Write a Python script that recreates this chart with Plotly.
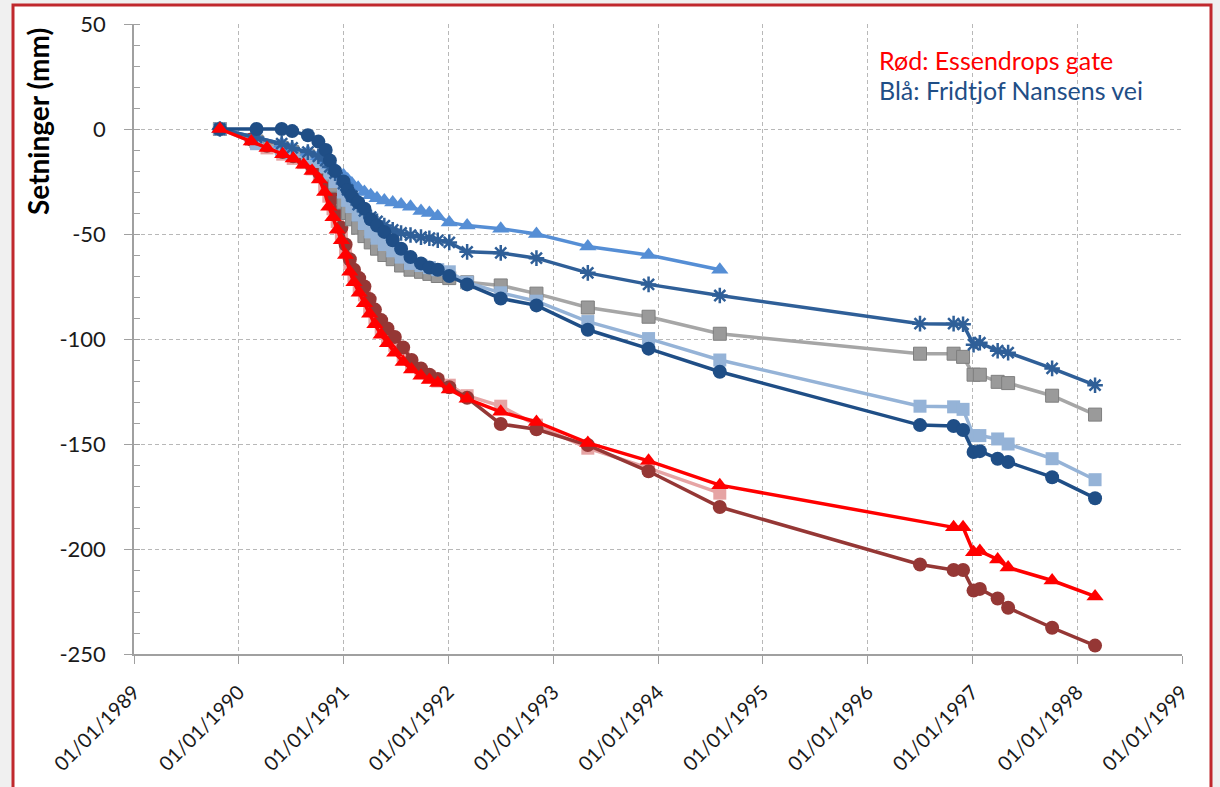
import datetime as dt
import plotly.graph_objects as go

# ---------------- data (dates as decimal years, settlements in mm) ----------------
E_early = [1989.82, 1990.12, 1990.27, 1990.42, 1990.52, 1990.62, 1990.70, 1990.77, 1990.82,
           1990.86, 1990.90, 1990.94, 1990.98, 1991.02, 1991.06, 1991.10, 1991.15, 1991.20,
           1991.25, 1991.30, 1991.36, 1991.42, 1991.49, 1991.57, 1991.65, 1991.74, 1991.82,
           1991.90, 1992.01]
B_early = [1989.82, 1990.17, 1990.41, 1990.51, 1990.66, 1990.76, 1990.83, 1990.87, 1990.92,
           1991.00, 1991.04, 1991.08, 1991.14, 1991.20, 1991.26, 1991.32, 1991.39, 1991.47,
           1991.55, 1991.64, 1991.74, 1991.82, 1991.90, 1992.01]
late = [1992.18, 1992.50, 1992.84, 1993.33, 1993.91, 1994.59, 1996.50, 1996.82, 1996.91,
        1997.01, 1997.07, 1997.24, 1997.34, 1997.76, 1998.17]
late_no_1996 = late[:6] + late[7:]

red_vals = [0, -6, -9, -12, -14, -17, -20, -24, -30, -37, -42, -48, -53, -60, -68, -73, -78,
            -83, -88, -93, -98, -102, -106.5, -111, -114.5, -117.5, -119.5, -121, -124,
            -128.5, -134.7, -139.5, -149.5, -158, -169.6, -189.7, -189.7, -201.6, -201, -205,
            -208.8, -215, -222.6]
brown_vals = [0, -5, -8, -11, -13, -15, -18, -21, -24, -28, -33, -40, -47, -55, -62, -67, -71,
              -75, -81, -86, -91, -95, -99, -104, -110, -114, -117, -119, -123,
              -128, -140.5, -143, -150.5, -163, -180, -207.4, -210, -210, -219.8, -219, -223.6,
              -228, -237.5, -246]
pink_vals = [0, -5, -9, -12, -14, -16, -19, -22, -27, -32, -38, -44, -50, -57, -64, -70, -75,
             -79, -85, -90, -95, -99, -103, -108, -113, -116, -118, -120, -122,
             -127, -132, -141, -152, -161.5, -173.4]

navy_vals = [0, 0, 0, -1, -3, -6, -10, -15, -20, -25, -29, -32, -35, -38, -43, -46, -49, -53,
             -57, -61, -64, -66, -67, -70,
             -74, -80.7, -84, -95.6, -104.6, -115.6, -141, -141.4, -143.3, -153.8, -153.4, -157,
             -158.6, -165.8, -175.8]
lightblue_vals = [0, -7, -10, -12, -14, -15.5, -18, -21, -25, -30, -34, -37, -41, -45, -49, -52,
                  -55, -58, -61, -64, -65, -66, -67, -68,
                  -73, -78, -82, -91.7, -99.8, -110, -132, -132.3, -133.5, -146, -146, -147.6,
                  -150, -157, -167]
grey_vals = [0, -6, -9, -11, -13, -15, -18, -22, -27, -35, -40, -43, -47, -51, -54, -57, -60,
             -62, -65, -67, -68, -69, -70, -71,
             -73, -74.5, -78.4, -85, -89.4, -97.5, -107, -107, -108.5, -117, -117, -120.4, -121,
             -127, -136]
midblue_vals = [0, -4, -7, -9, -11, -13, -15, -17, -19, -22, -24, -26, -28, -30, -31.5, -33,
                -34, -35, -36, -37, -39, -40, -41.5, -44.5,
                -46, -47.5, -50, -56, -60, -67]
star_vals = [0, -4, -7, -9, -11, -13, -15, -18, -21, -26, -29, -32, -36, -39, -42, -44, -46,
             -48, -49.5, -50.5, -51.5, -52, -53, -54,
             -58.5, -59, -61.5, -68.5, -74, -79.3, -92.7, -92.7, -93, -102.7, -101.8, -105.6,
             -106.5, -114, -122]

y_ticks = [50, 0, -50, -100, -150, -200, -250]
y_ticktext = ["50", "0", "-50", "-100", "-150", "-200", "-250"]
note_red = "Rød: Essendrops gate"
note_blue = "Blå: Fridtjof Nansens vei"
y_title = "Setninger (mm)"


def to_date(y):
    yr = int(y)
    start = dt.datetime(yr, 1, 1)
    length = (dt.datetime(yr + 1, 1, 1) - start).total_seconds()
    return start + dt.timedelta(seconds=(y - yr) * length)


def dates(lst):
    return [to_date(v) for v in lst]


FONT = "Lato"
fig = go.Figure()


def add(x, y, color, symbol, size, mcolor=None, mline=None, mlw=0):
    fig.add_trace(go.Scatter(
        x=dates(x), y=y, mode="lines+markers",
        line=dict(color=color, width=3.5),
        marker=dict(symbol=symbol, size=size, color=mcolor or color,
                    line=dict(color=mline or color, width=mlw)),
        hoverinfo="skip", showlegend=False))


add(E_early + late[:6], pink_vals, "#e6a4a4", "square", 13)
add(E_early + late, brown_vals, "#953735", "circle", 14)
add(B_early + late, grey_vals, "#a6a6a6", "square", 13, mcolor="#9a9a9a", mline="#7f7f7f", mlw=1)
add(B_early + late, lightblue_vals, "#95b3d7", "square", 13)
add(B_early + late[:6], midblue_vals, "#558ed5", "triangle-up", 15)
add(B_early + late, star_vals, "#2f5f98", "asterisk-open", 13, mlw=2.5)
add(B_early + late, navy_vals, "#1f4e86", "circle", 14)
add(E_early + late_no_1996, red_vals, "#ff0000", "triangle-up", 15)

L, R, T, B = 134, 38, 24, 133
W, H = 1220, 787
pw, ph = W - L - R, H - T - B


def px(x):
    return (x - L) / pw


def py(y):
    return (H - B - y) / ph


fig.add_shape(type="rect", xref="paper", yref="paper",
              x0=px(13), x1=px(1211), y0=py(810), y1=py(5),
              fillcolor="white", line=dict(color="#c0282d", width=3), layer="below")

fig.add_annotation(xref="paper", yref="paper", x=px(877), y=py(60), xanchor="left",
                   yanchor="middle", text=note_red, showarrow=False,
                   font=dict(family=FONT, size=25, color="#ff0000"))
fig.add_annotation(xref="paper", yref="paper", x=px(877), y=py(90), xanchor="left",
                   yanchor="middle", text=note_blue, showarrow=False,
                   font=dict(family=FONT, size=25, color="#1f4e86"))
fig.add_annotation(xref="paper", yref="paper", x=px(38), y=py(122), xanchor="center",
                   yanchor="middle", text="<b>" + y_title + "</b>", textangle=-90,
                   showarrow=False, font=dict(family=FONT, size=28, color="#000000"))

grid = dict(showgrid=True, gridcolor="#b8b8b8", gridwidth=1, griddash="4px,3px")
fig.update_xaxes(type="date", range=[dt.datetime(1989, 1, 1), dt.datetime(1999, 1, 1)],
                 tick0="1989-01-01", dtick="M12", tickformat="%d/%m/%Y", tickangle=-45,
                 ticks="outside", ticklen=8, tickcolor="#a0a0a0", ticklabelstandoff=9,
                 showline=True, linecolor="#a0a0a0", linewidth=1.5, zeroline=False,
                 tickfont=dict(family=FONT, size=20, color="#1a1a1a"), **grid)
fig.update_yaxes(range=[-250, 50], tickvals=y_ticks, ticktext=y_ticktext, ticks="outside",
                 ticklen=8, tickcolor="#a0a0a0", showline=True, linecolor="#a0a0a0",
                 linewidth=1.5, zeroline=False, ticklabelstandoff=14,
                 minor=dict(dtick=10, ticks="inside", ticklen=6, tickcolor="#a0a0a0",
                            showgrid=False),
                 tickfont=dict(family=FONT, size=22, color="#1a1a1a"), **grid)

fig.update_layout(width=W, height=H, margin=dict(l=L, r=R, t=T, b=B, autoexpand=False),
                  paper_bgcolor="#f0f0f0", plot_bgcolor="rgba(0,0,0,0)",
                  font=dict(family=FONT))
fig.write_html("out.html", config={"displayModeBar": False},
               post_script="document.body.style.margin='0';"
                           "document.body.style.overflow='hidden';"
                           "document.body.style.background='#f0f0f0';")
